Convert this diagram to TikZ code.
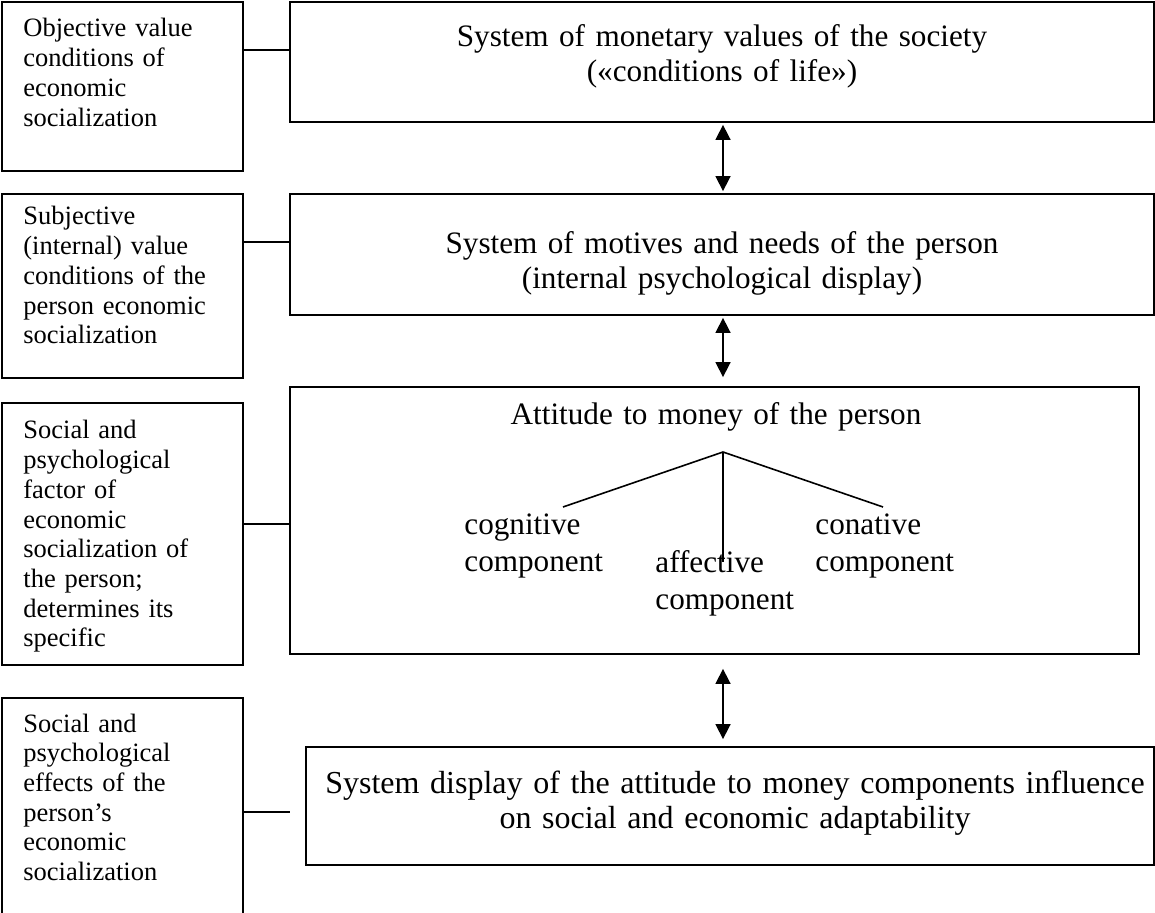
\documentclass[tikz,border=0pt]{standalone}
\usepackage{fontspec}
\setmainfont{Liberation Serif}
\usetikzlibrary{arrows.meta}
\begin{document}
\begin{tikzpicture}[x=0.5pt,y=-0.5pt,
    leftbox/.style ={draw, line width=0.9pt, minimum width=120.5pt, inner sep=0pt},
    mainbox/.style ={draw, line width=0.9pt, inner sep=0pt},
    sidetext/.style ={anchor=base west, inner sep=0pt, text width=115pt, align=left, font=\fontsize{13.25}{14.85}\selectfont},
    maintext/.style ={anchor=base, inner sep=0pt, text width=420pt, align=center, font=\fontsize{15.6}{17.5}\selectfont},
    parttext/.style ={anchor=base west, inner sep=0pt, text width=80pt, align=left, font=\fontsize{15.6}{18.5}\selectfont},
    link/.style ={line width=0.8pt},
    both/.style ={line width=0.8pt, {Triangle[length=7.5pt,width=7.5pt]}-{Triangle[length=7.5pt,width=7.5pt]}}]
   \useasboundingbox (0,0) rectangle (1155,913);
   \clip (0,0) rectangle (1155,913);
   \node[leftbox, minimum height=84.5pt] (L1) at (122.5,86.5) {};
   \node[leftbox, minimum height=92pt] (L2) at (122.5,286) {};
   \node[leftbox, minimum height=131pt] (L3) at (122.5,534) {};
   \node[leftbox, minimum height=151pt] (L4) at (122.5,849) {};
   \node[mainbox, minimum width=432pt, minimum height=60pt] (M1) at (722,62) {};
   \node[mainbox, minimum width=432pt, minimum height=60.5pt] (M2) at (722,254.5) {};
   \node[mainbox, minimum width=424.5pt, minimum height=133.5pt] (M3) at (714.5,520.5) {};
   \node[mainbox, minimum width=424pt, minimum height=59pt] (M4) at (730,806) {};
   \node[sidetext] (t1) at (23,37) {Objective value\\conditions of\\economic\\socialization};
   \node[sidetext] (t2) at (23,225) {Subjective\\(internal) value\\conditions of the\\person economic\\socialization};
   \node[sidetext] (t3) at (23,439) {Social and\\psychological\\factor of\\economic\\socialization of\\the person;\\determines its\\specific};
   \node[sidetext] (t4) at (23,732) {Social and\\psychological\\effects of the\\person’s\\economic\\socialization};
   \node[maintext] (s1) at (722,47) {System of monetary values of the society\\(«conditions of life»)};
   \node[maintext] (s2) at (722,254) {System of motives and needs of the person\\(internal psychological display)};
   \node[maintext] (s3) at (716,425) {Attitude to money of the person};
   \node[maintext, font=\fontsize{16}{17.5}\selectfont] (s4) at (735,793) {System display of the attitude to money components influence\\on social and economic adaptability};
   \node[parttext] (cog) at (464,535) {cognitive\\component};
   \node[parttext] (aff) at (655,573) {affective\\component};
   \node[parttext] (con) at (815,535) {conative\\component};
   \coordinate (apex) at (723,452);
   \coordinate (cogend) at (563,507);
   \coordinate (affend) at (723,562);
   \coordinate (conend) at (883,507);
   \draw[link] (apex) to (cogend);
   \draw[link] (apex) to (affend);
   \draw[link] (apex) to (conend);
   \coordinate (k1) at (0,50);
   \coordinate (k2) at (0,242);
   \coordinate (k3) at (0,524);
   \coordinate (k4) at (290,812);
   \draw[link] (L1.east |- k1) to (M1.west |- k1);
   \draw[link] (L2.east |- k2) to (M2.west |- k2);
   \draw[link] (L3.east |- k3) to (M3.west |- k3);
   \draw[link] (L4.east |- k4) to (k4);
   \coordinate (ax) at (723,0);
   \draw[both, shorten <=1pt, shorten >=1pt] (M1.south -| ax) to (M2.north -| ax);
   \draw[both, shorten <=1pt, shorten >=4.5pt] (M2.south -| ax) to (M3.north -| ax);
   \draw[both, shorten <=7pt, shorten >=3.5pt] (M3.south -| ax) to (M4.north -| ax);
 \end{tikzpicture}
\end{document}
